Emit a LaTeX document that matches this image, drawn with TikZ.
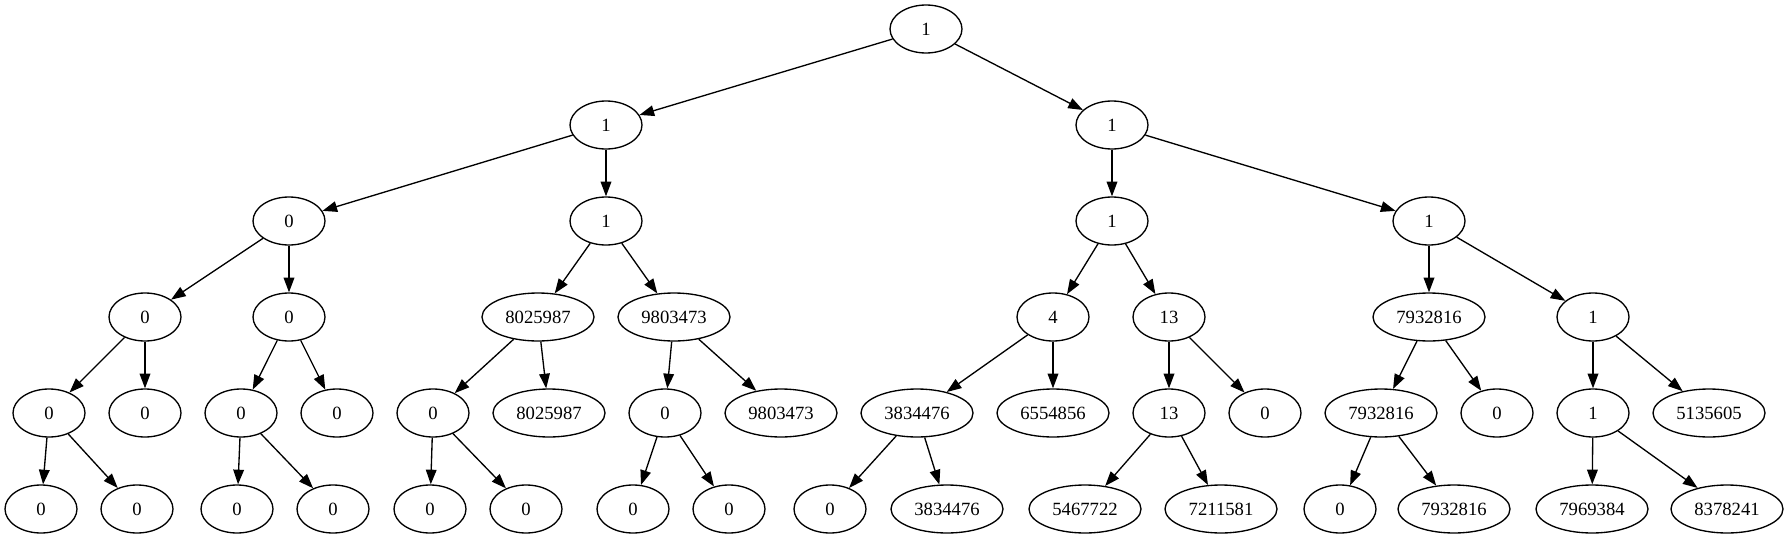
\documentclass[tikz,border=0pt]{standalone}
\usepackage{fontspec}
\setmainfont{Liberation Serif}
\usetikzlibrary{shapes.geometric,arrows.meta}
\begin{document}
\begin{tikzpicture}[x=0.75pt,y=-0.75pt,
  nd/.style={draw,ellipse,line width=1pt,inner sep=0pt,minimum width=54pt,minimum height=36pt,font=\fontsize{14}{16}\selectfont},
  wd/.style={nd,minimum width=84pt},
  ed/.style={line width=1pt,-{Triangle[length=11pt,width=8pt]}}]
\useasboundingbox (0,0) rectangle (1789,539);
% row 0
\node[nd] (r) at (926,29) {1};
% row 1
\node[nd] (a) at (606,125) {1};
\node[nd] (b) at (1112,125) {1};
% row 2
\node[nd] (a0) at (289,221) {0};
\node[nd] (a1) at (606,221) {1};
\node[nd] (b0) at (1112,221) {1};
\node[nd] (b1) at (1429,221) {1};
% row 3
\node[nd] (a00) at (145,317) {0};
\node[nd] (a01) at (289,317) {0};
\node[wd] (a10) at (538,317) {8025987};
\node[wd] (a11) at (674,317) {9803473};
\node[nd] (b00) at (1053,317) {4};
\node[nd] (b01) at (1169,317) {13};
\node[wd] (b10) at (1429,317) {7932816};
\node[nd] (b11) at (1593,317) {1};
% row 4
\node[nd] (a000) at (49,413) {0};
\node[nd] (a001) at (145,413) {0};
\node[nd] (a010) at (241,413) {0};
\node[nd] (a011) at (337,413) {0};
\node[nd] (a100) at (433,413) {0};
\node[wd] (a101) at (549,413) {8025987};
\node[nd] (a110) at (665,413) {0};
\node[wd] (a111) at (781,413) {9803473};
\node[wd] (b000) at (917,413) {3834476};
\node[wd] (b001) at (1053,413) {6554856};
\node[nd] (b010) at (1169,413) {13};
\node[nd] (b011) at (1265,413) {0};
\node[wd] (b100) at (1381,413) {7932816};
\node[nd] (b101) at (1497,413) {0};
\node[nd] (b110) at (1593,413) {1};
\node[wd] (b111) at (1709,413) {5135605};
% row 5
\node[nd] (c1) at (41,509) {0};
\node[nd] (c2) at (137,509) {0};
\node[nd] (c3) at (237,509) {0};
\node[nd] (c4) at (333,509) {0};
\node[nd] (c5) at (430,509) {0};
\node[nd] (c6) at (526,509) {0};
\node[nd] (c7) at (633,509) {0};
\node[nd] (c8) at (729,509) {0};
\node[nd] (c9) at (830,509) {0};
\node[wd] (c10) at (947,509) {3834476};
\node[wd] (c11) at (1085,509) {5467722};
\node[wd] (c12) at (1221,509) {7211581};
\node[nd] (c13) at (1340,509) {0};
\node[wd] (c14) at (1454,509) {7932816};
\node[wd] (c15) at (1592,509) {7969384};
\node[wd] (c16) at (1727,509) {8378241};
% edges
\foreach \p/\c in {r/a,r/b,a/a0,a/a1,b/b0,b/b1,
  a0/a00,a0/a01,a1/a10,a1/a11,b0/b00,b0/b01,b1/b10,b1/b11,
  a00/a000,a00/a001,a01/a010,a01/a011,a10/a100,a10/a101,a11/a110,a11/a111,
  b00/b000,b00/b001,b01/b010,b01/b011,b10/b100,b10/b101,b11/b110,b11/b111,
  a000/c1,a000/c2,a010/c3,a010/c4,a100/c5,a100/c6,a110/c7,a110/c8,
  b000/c9,b000/c10,b010/c11,b010/c12,b100/c13,b100/c14,b110/c15,b110/c16}
  \draw[ed] (\p) -- (\c);
\end{tikzpicture}
\end{document}
